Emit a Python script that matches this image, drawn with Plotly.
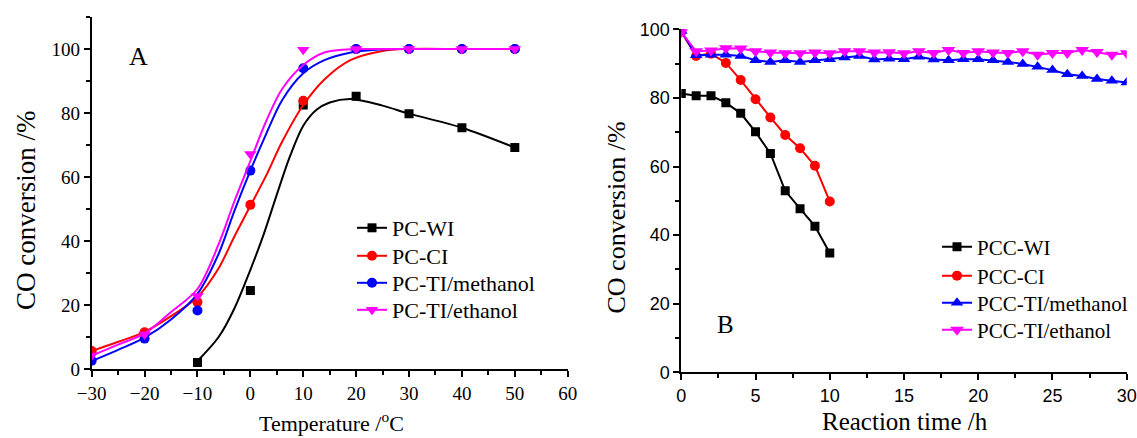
import plotly.graph_objects as go

# ---------------- Panel A: light-off curves ----------------
temp_pts = [-30, -20, -10, 0, 10, 20, 30, 40, 50]
temp_wi = [-10, 0, 10, 20, 30, 40, 50]
conv_pc_wi = [2, 24.5, 82.5, 85.2, 79.8, 75.4, 69.2]
conv_pc_ci = [5.6, 11.5, 20.9, 51.3, 83.8, 100, 100, 100, 100]
conv_pc_ti_meth = [2.6, 9.5, 18.3, 62, 94, 100, 100, 100, 100]
conv_pc_ti_eth = [4.2, 10.8, 22.8, 67.2, 99.8, 100, 100, 100, 100]

# fitted curves (sampled along the smooth fit)
fit_temp = [-30, -25, -20, -15, -10, -6, -3, 0, 3, 6, 10, 14, 19, 25, 30, 40, 50]
fit_temp_wi = [-10, -6, -3, 0, 2.5, 5, 7.5, 10, 12.5, 15, 19, 25, 30, 40, 50]
fit_pc_wi = [2.5, 10, 19, 31, 42, 54.5, 66.5, 76, 81, 83.3, 84.4, 82.3, 79.8, 75.4, 69.2]
fit_pc_ci = [5.6, 8.5, 11.6, 16.5, 22.5, 31.5, 41.5, 51, 60.5, 71, 82.5, 90.5, 96.6, 99.4, 100, 100, 100]
fit_pc_ti_meth = [2.5, 6, 9.8, 15.5, 23.5, 36, 49.5, 62, 73.5, 84, 92.4, 96.5, 98.9, 99.9, 100, 100, 100]
fit_pc_ti_eth = [4.2, 7.6, 11.1, 17.8, 25, 39, 52.5, 65, 77.5, 87.5, 95, 98.9, 99.9, 100, 100, 100, 100]

# ---------------- Panel B: stability test ----------------
time_short = list(range(0, 11))
time_long = list(range(0, 31))
conv_pcc_wi = [81.3, 80.6, 80.6, 78.6, 75.5, 70.1, 63.8, 52.9, 47.7, 42.6, 34.8]
conv_pcc_ci = [99.3, 92.2, 92.9, 90.2, 85.2, 79.6, 74.3, 69.2, 65.3, 60.2, 49.8]
conv_pcc_ti_meth = [99.5, 92.4, 92.6, 92.6, 92.2, 91.0, 90.5, 91.0, 90.5, 91.0, 91.3,
                    91.8, 92.2, 91.2, 91.4, 91.3, 92.0, 91.2, 91.0, 91.3, 91.3, 91.0,
                    90.5, 89.9, 89.1, 88.1, 86.9, 86.4, 85.5, 85.0, 84.5]
conv_pcc_ti_eth = [99.2, 93.6, 93.8, 94.5, 94.4, 93.6, 93.2, 93.0, 93.0, 93.2, 93.0,
                   93.6, 93.6, 93.2, 93.3, 93.0, 93.6, 93.1, 94.0, 93.1, 93.6, 93.2,
                   93.1, 93.6, 92.6, 93.1, 93.1, 94.0, 93.4, 92.6, 93.0]

labels_a = ["PC-WI", "PC-CI", "PC-TI/methanol", "PC-TI/ethanol"]
labels_b = ["PCC-WI", "PCC-CI", "PCC-TI/methanol", "PCC-TI/ethanol"]
colors = ["#000000", "#FF0000", "#0000FF", "#FF00FF"]
symbols_a = ["square", "circle", "circle", "triangle-down"]
symbols_b = ["square", "circle", "triangle-up", "triangle-down"]
sizes_a = [9, 10, 10, 11]
sizes_b = [9, 10, 11, 12]

SERIF = "Liberation Serif"
SANS = "Liberation Sans"
W, H = 1137, 438

# one legend box per entry so the row spacing can follow the original layout
legend_rows_a = [228, 256, 283, 310]
legend_rows_b = [247, 276, 303, 330]
legend_ids_a = ["legend", "legend2", "legend3", "legend4"]
legend_ids_b = ["legend5", "legend6", "legend7", "legend8"]

fig = go.Figure()

# Panel A traces: fitted line + measured points, plus a legend entry
series_a = [
    (temp_wi, conv_pc_wi, fit_temp_wi, fit_pc_wi),
    (temp_pts, conv_pc_ci, fit_temp, fit_pc_ci),
    (temp_pts, conv_pc_ti_meth, fit_temp, fit_pc_ti_meth),
    (temp_pts, conv_pc_ti_eth, fit_temp, fit_pc_ti_eth),
]
for i, (xp, yp, xf, yf) in enumerate(series_a):
    fig.add_trace(go.Scatter(
        x=xf, y=yf, mode="lines", xaxis="x", yaxis="y",
        line=dict(color=colors[i], width=2, shape="spline", smoothing=0.9),
        showlegend=False, hoverinfo="skip"))
    fig.add_trace(go.Scatter(
        x=xp, y=yp, mode="markers", xaxis="x", yaxis="y",
        marker=dict(symbol=symbols_a[i], size=sizes_a[i], color=colors[i],
                    line=dict(width=0)),
        showlegend=False))
for i in range(4):
    fig.add_trace(go.Scatter(
        x=[None], y=[None], mode="lines+markers", xaxis="x", yaxis="y",
        name=labels_a[i], legend=legend_ids_a[i],
        line=dict(color=colors[i], width=2),
        marker=dict(symbol=symbols_a[i], size=sizes_a[i], color=colors[i],
                    line=dict(width=0))))

# Panel B traces
series_b = [
    (time_short, conv_pcc_wi),
    (time_short, conv_pcc_ci),
    (time_long, conv_pcc_ti_meth),
    (time_long, conv_pcc_ti_eth),
]
for i, (xs, ys) in enumerate(series_b):
    fig.add_trace(go.Scatter(
        x=xs, y=ys, mode="lines+markers", xaxis="x2", yaxis="y2",
        name=labels_b[i], legend=legend_ids_b[i],
        line=dict(color=colors[i], width=2),
        marker=dict(symbol=symbols_b[i], size=sizes_b[i], color=colors[i],
                    line=dict(width=0))))

axis_common = dict(
    showline=True, linecolor="black", linewidth=2, mirror=False,
    ticks="outside", ticklen=6, tickwidth=2, tickcolor="black",
    showgrid=False, zeroline=False, automargin=False,
)

legend_layout = {}
for lid, row in zip(legend_ids_a, legend_rows_a):
    legend_layout[lid] = dict(
        x=352 / W, y=1 - row / H, xanchor="left", yanchor="middle",
        bgcolor="rgba(0,0,0,0)", borderwidth=0,
        font=dict(family=SERIF, size=22, color="black"))
for lid, row in zip(legend_ids_b, legend_rows_b):
    legend_layout[lid] = dict(
        x=937 / W, y=1 - row / H, xanchor="left", yanchor="middle",
        bgcolor="rgba(0,0,0,0)", borderwidth=0,
        font=dict(family=SERIF, size=21, color="black"))

fig.update_layout(
    width=W, height=H,
    margin=dict(l=0, r=0, t=0, b=0, pad=0, autoexpand=False),
    paper_bgcolor="white", plot_bgcolor="white",
    xaxis=dict(**axis_common, domain=[91.7 / W, 567.7 / W], range=[-30, 60],
               dtick=10, tick0=0, anchor="y",
               tickfont=dict(family=SERIF, size=19, color="black"),
               minor=dict(ticks="outside", ticklen=4, tickwidth=2,
                          tickcolor="black", dtick=5, showgrid=False)),
    yaxis=dict(**axis_common, domain=[(H - 369) / H, (H - 17) / H], range=[0, 110],
               tickvals=[0, 20, 40, 60, 80, 100], anchor="x",
               tickfont=dict(family=SERIF, size=19, color="black"),
               minor=dict(ticks="outside", ticklen=4, tickwidth=2,
                          tickcolor="black", tickvals=[10, 30, 50, 70, 90, 110],
                          showgrid=False)),
    xaxis2=dict(**axis_common, domain=[681.3 / W, 1126.7 / W], range=[0, 30],
                dtick=5, tick0=0, anchor="y2",
                tickfont=dict(family=SANS, size=18, color="black"),
                minor=dict(ticks="outside", ticklen=4, tickwidth=2,
                           tickcolor="black", dtick=2.5, showgrid=False)),
    yaxis2=dict(**axis_common, domain=[(H - 372.3) / H, (H - 29.3) / H], range=[0, 100],
                dtick=20, tick0=0, anchor="x2",
                tickfont=dict(family=SANS, size=18, color="black"),
                minor=dict(ticks="outside", ticklen=4, tickwidth=2,
                           tickcolor="black", dtick=10, showgrid=False)),
    annotations=[
        dict(text="CO conversion /%", xref="paper", yref="paper",
             x=26 / W, y=1 - 211 / H, textangle=-90, showarrow=False,
             xanchor="center", yanchor="middle",
             font=dict(family=SERIF, size=27, color="black")),
        dict(text="Temperature /<sup>o</sup>C", xref="paper", yref="paper",
             x=331 / W, y=1 - 422 / H, showarrow=False,
             xanchor="center", yanchor="middle",
             font=dict(family=SERIF, size=22, color="black")),
        dict(text="CO conversion /%", xref="paper", yref="paper",
             x=616 / W, y=1 - 217.5 / H, textangle=-90, showarrow=False,
             xanchor="center", yanchor="middle",
             font=dict(family=SERIF, size=26, color="black")),
        dict(text="Reaction time /h", xref="paper", yref="paper",
             x=905 / W, y=1 - 421 / H, showarrow=False,
             xanchor="center", yanchor="middle",
             font=dict(family=SERIF, size=25, color="black")),
        dict(text="A", xref="x", yref="y", x=-21.2, y=97.8, showarrow=False,
             xanchor="center", yanchor="middle",
             font=dict(family=SERIF, size=26, color="black")),
        dict(text="B", xref="x2", yref="y2", x=2.95, y=13.8, showarrow=False,
             xanchor="center", yanchor="middle",
             font=dict(family=SERIF, size=25, color="black")),
    ],
    **legend_layout,
)

fig.write_html("out.html")
